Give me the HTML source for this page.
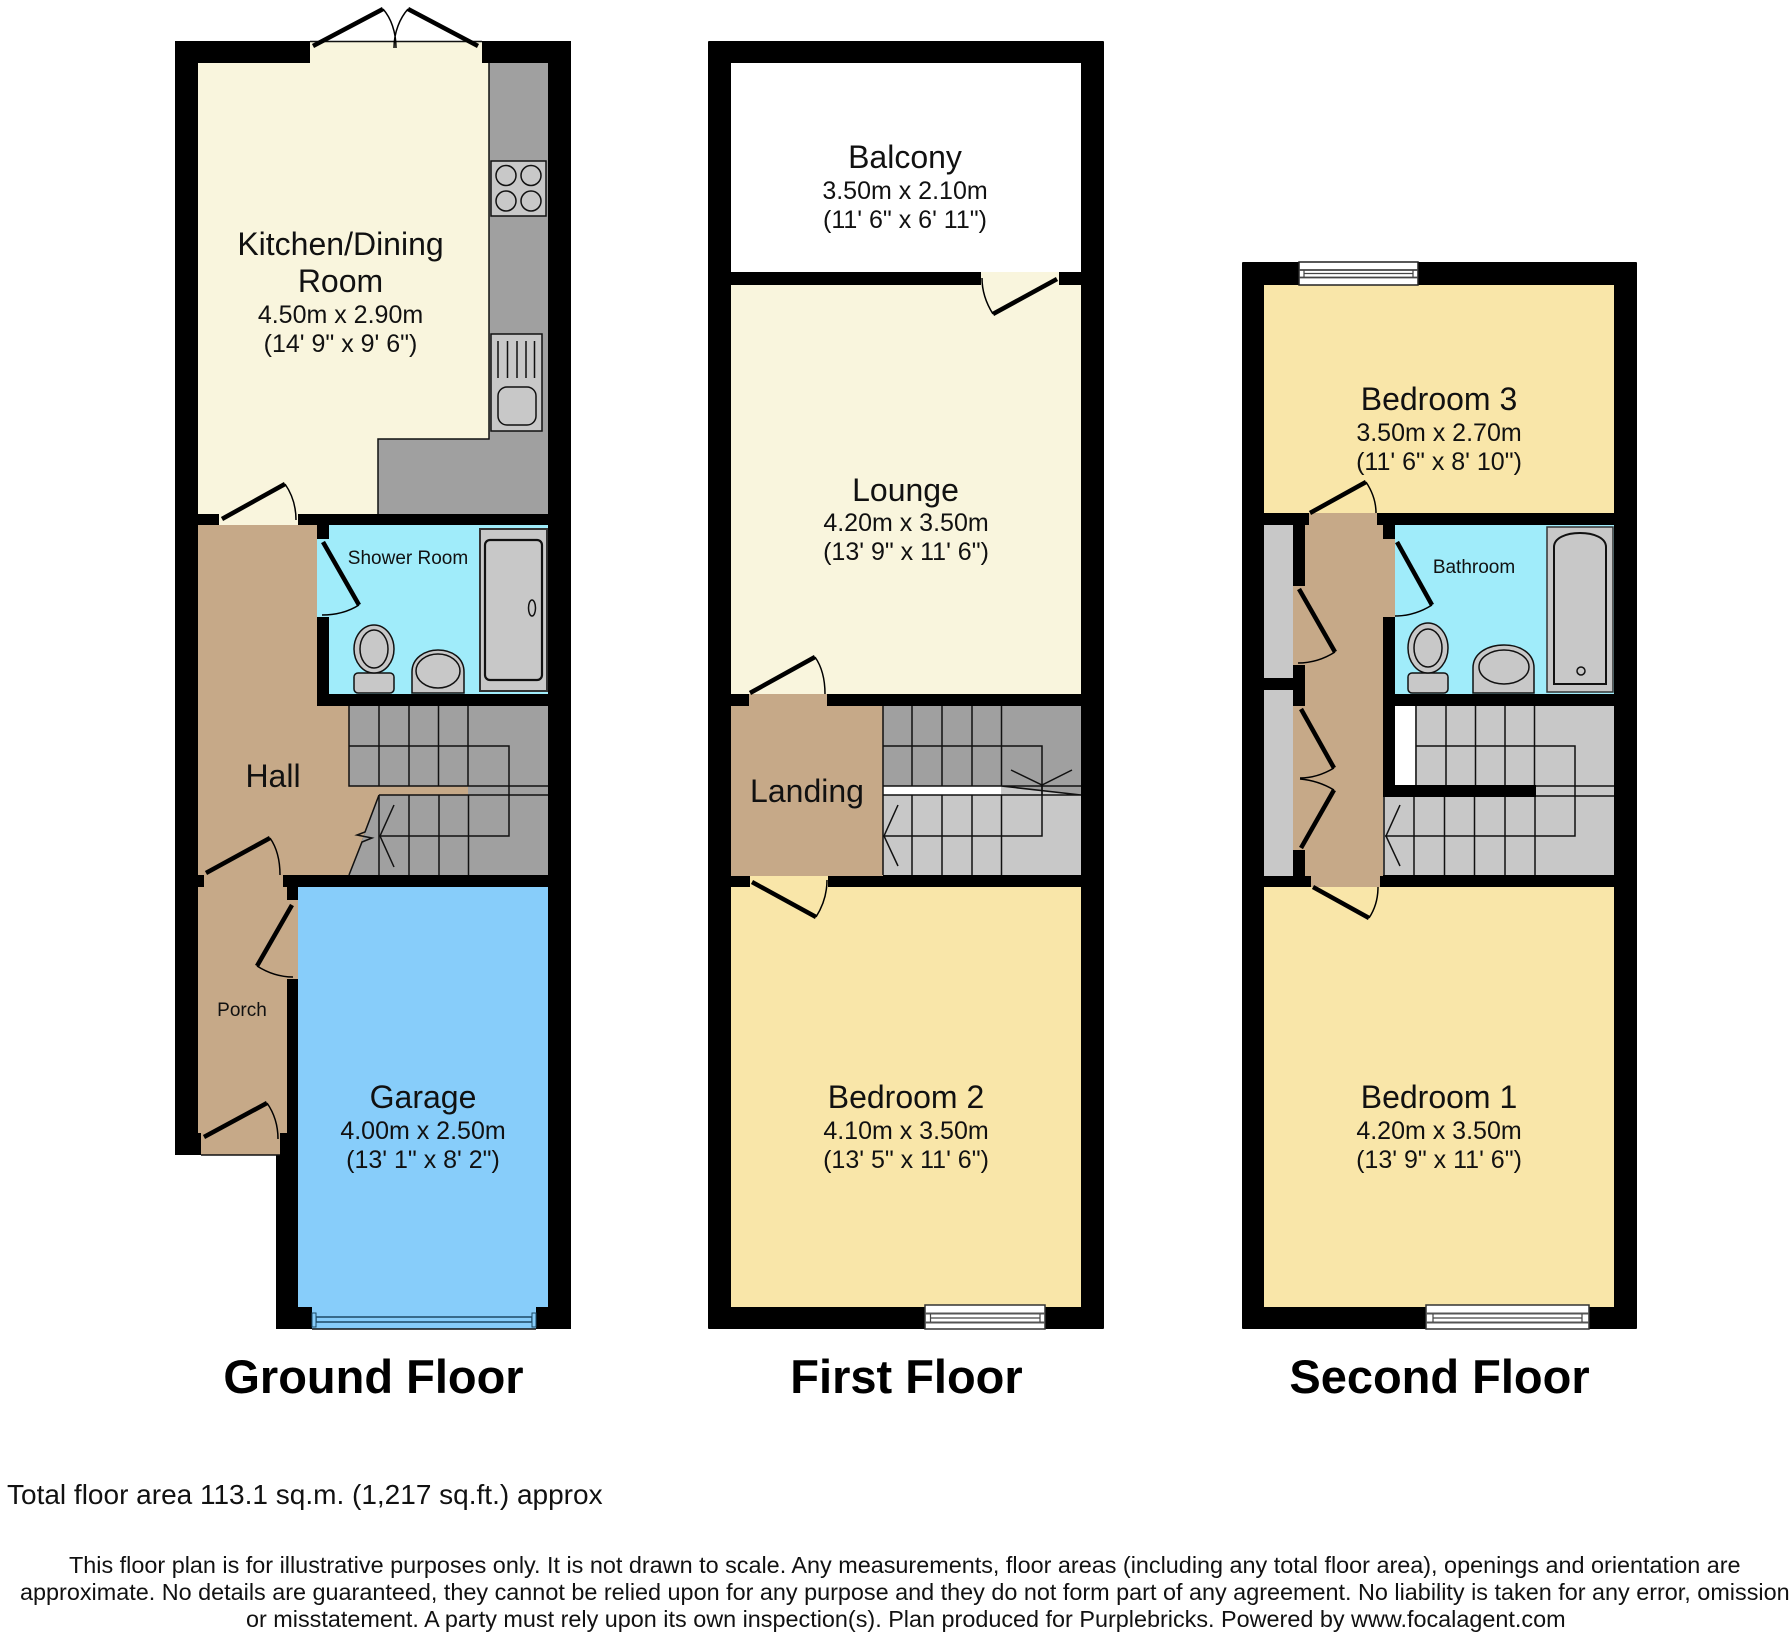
<!DOCTYPE html>
<html><head><meta charset="utf-8"><title>Floor Plan</title>
<style>
html,body{margin:0;padding:0;background:#fff}
svg{display:block}
text{font-family:"Liberation Sans",sans-serif;fill:#111}
.t{font-size:32px;text-anchor:middle}
.d{font-size:25px;text-anchor:middle}
.s{font-size:19px;text-anchor:middle}
.h{font-size:47px;font-weight:bold;text-anchor:middle;fill:#000}
.f{font-size:28px}
.n{font-size:23.4px}
.leaf{stroke:#000;stroke-width:4.5;fill:none}
.arc{stroke:#000;stroke-width:1.5;fill:none}
.ln{stroke:#111;stroke-width:1.5;fill:none}
.fx{fill:#c8c8c8;stroke:#111;stroke-width:1.5}
.k{fill:#000}
</style></head><body>
<svg xmlns="http://www.w3.org/2000/svg" width="1792" height="1632" viewBox="0 0 1792 1632">
<rect width="1792" height="1632" fill="#fff"/>

<!-- GROUND FLOOR -->
<polygon points="175,41 571,41 571,1329 276,1329 276,1155 175,1155" fill="#000"/>
<polygon points="198,63 310,63 310,42 482,42 482,63 489,63 489,439 378,439 378,514 298,514 298,525 219,525 219,514 198,514" fill="#f9f5dd"/>
<polygon points="489,63 548,63 548,514 378,514 378,439 489,439" fill="#a0a0a0"/>
<polyline points="489,63 489,439 378,439 378,514" class="ln"/>
<line x1="310" y1="41.5" x2="482" y2="41.5" class="ln"/>
<!-- hob -->
<rect x="491" y="161" width="55" height="55" class="fx"/>
<circle cx="506" cy="175.5" r="10" class="fx"/><circle cx="531" cy="175.5" r="10" class="fx"/>
<circle cx="506" cy="201" r="10" class="fx"/><circle cx="531" cy="201" r="10" class="fx"/>
<!-- sink -->
<rect x="491" y="334" width="51" height="97" class="fx"/>
<path d="M498 341V378M507.500 341V378M517 341V378M526 341V378M534.500 341V378" class="ln"/>
<rect x="498" y="387" width="38" height="38" rx="9" class="fx"/>
<!-- hall -->
<polygon points="198,525 317,525 317,706 349,706 349,786 468,786 468,795 379,795 349,875 283,875 283,887 204,887 204,875 198,875" fill="#c6a988"/>
<rect x="198" y="887" width="89" height="246" fill="#c6a988"/>
<rect x="198" y="875" width="6" height="12" class="k"/>
<rect x="201" y="1133" width="79" height="22" fill="#c6a988"/>
<rect x="287" y="900" width="11" height="79" fill="#c6a988"/>
<line x1="201" y1="1155" x2="280" y2="1155" class="ln"/>
<!-- shower room -->
<rect x="329" y="525" width="219" height="169" fill="#a0ecfa"/>
<rect x="317" y="539" width="12" height="78" fill="#a0ecfa"/>
<rect x="480" y="529" width="67" height="162" fill="#c8c8c8" stroke="#333" stroke-width="2"/>
<rect x="485" y="540" width="57" height="140" rx="5" fill="#c8c8c8" stroke="#111" stroke-width="2.2"/>
<ellipse cx="532" cy="608" rx="3.500" ry="8" class="fx"/>
<rect x="354" y="673" width="40" height="20" rx="4" class="fx"/>
<ellipse cx="374" cy="649" rx="20" ry="24" class="fx"/>
<ellipse cx="374" cy="649" rx="14" ry="19" class="fx"/>
<path d="M412 693V672C412 658 425 650 438 650C452 650 464 658 464 672V693Z" class="fx"/>
<ellipse cx="438" cy="671" rx="22" ry="17" class="fx"/>
<!-- ground stairs -->
<rect x="349" y="706" width="199" height="80" fill="#a0a0a0"/>
<rect x="468" y="786" width="80" height="9" fill="#a0a0a0"/>
<polygon points="379,795 548,795 548,875 349,875" fill="#a0a0a0"/>
<path d="M379 706V786M409 706V786M438.500 706V786M468 706V786M349 746H509V836H379M349 706V786H468M468 786H548M379 795H548M379 795V875M409 795V875M439 795V875M468.500 795V875" class="ln"/>
<path d="M379 795L365 832L357 835L372 838L362 842L349 875" class="ln"/>
<path d="M394 805L380 836L394 867" class="ln"/>
<!-- garage -->
<rect x="298" y="887" width="250" height="420" fill="#87cdfa"/>
<rect x="312" y="1307" width="224" height="22" fill="#87cdfa"/>
<line x1="312" y1="1329" x2="536" y2="1329" class="ln"/>
<rect x="316" y="1317" width="216" height="5" fill="#87cdfa" stroke="#1d4a66" stroke-width="1.500"/>
<rect x="312" y="1313" width="4" height="14" fill="#87cdfa" stroke="#1d4a66" stroke-width="1"/>
<rect x="532" y="1313" width="4" height="14" fill="#87cdfa" stroke="#1d4a66" stroke-width="1"/>
<!-- ground doors -->
<path d="M313 46L383 9M478 46L408 9" class="leaf"/>
<path d="M383 9C391 18 396 32 396 48M408 9C400 18 394 32 394 48" class="arc"/>
<path d="M222 519L285 484" class="leaf"/><path d="M285 484C292 494 296 506 296 520" class="arc"/>
<path d="M323 542L359 605" class="leaf"/><path d="M359 605C348 612 336 615 322 615" class="arc"/>
<path d="M206 873L270 838" class="leaf"/><path d="M270 838C277 848 280 860 280 875" class="arc"/>
<path d="M292 905L257 966" class="leaf"/><path d="M257 966C268 973 280 977 293 977" class="arc"/>
<path d="M204 1137L267 1103" class="leaf"/><path d="M267 1103C274 1113 278 1125 278 1139" class="arc"/>

<!-- FIRST FLOOR -->
<rect x="708" y="41" width="396" height="1288" rx="1" fill="#000"/>
<rect x="731" y="63" width="350" height="209" fill="#fff"/>
<rect x="731" y="285" width="350" height="409" fill="#f9f5dd"/>
<rect x="981" y="272" width="78" height="13" fill="#f9f5dd"/>
<rect x="749" y="694" width="78" height="12" fill="#c6a988"/>
<rect x="731" y="706" width="152" height="170" fill="#c6a988"/>
<rect x="731" y="887" width="350" height="420" fill="#f9e6a9"/>
<rect x="750" y="876" width="78" height="11" fill="#f9e6a9"/>
<rect x="883" y="706" width="198" height="80" fill="#a0a0a0"/>
<rect x="883" y="786" width="118" height="9" fill="#fff"/>
<polygon points="1001,786 1081,795 1001,795" fill="#c8c8c8"/>
<polygon points="1001,786 1081,786 1081,795" fill="#a0a0a0"/>
<rect x="883" y="795" width="198" height="80" fill="#c8c8c8"/>
<path d="M912 706V786M942 706V786M972 706V786M1001.500 706V786M883 746H1042V836H883M883 786H1081M883 795H1081M1001 786L1081 795M912 795V875M942 795V875M972 795V875M1001.500 795V875M883 706V875" class="ln"/>
<path d="M898 805L884 836L898 866M1011 770L1042 785L1072 770" class="ln"/>
<path d="M1042 785V795" class="ln"/>
<path d="M1057 279L993 314" class="leaf"/><path d="M993 314C986 303 982 291 982 278" class="arc"/>
<path d="M750 693L815 657" class="leaf"/><path d="M815 657C822 667 825 680 825 694" class="arc"/>
<path d="M752 882L816 917" class="leaf"/><path d="M816 917C823 906 827 893 827 880" class="arc"/>
<!-- first window -->
<rect x="925" y="1305" width="120" height="24" fill="#fff" stroke="#333" stroke-width="1.500"/>
<path d="M925 1313.500H1045M925 1322.500H1045" stroke="#555" stroke-width="2" fill="none"/>
<path d="M930.500 1314V1322M1040 1314V1322M931 1318H1040" stroke="#444" stroke-width="1.200" fill="none"/>

<!-- SECOND FLOOR -->
<rect x="1242" y="262" width="395" height="1067" rx="1" fill="#000"/>
<rect x="1264" y="285" width="350" height="228" fill="#f9e6a9"/>
<rect x="1264" y="887" width="350" height="420" fill="#f9e6a9"/>
<rect x="1264" y="525" width="29" height="153" fill="#c8c8c8"/>
<rect x="1264" y="690" width="29" height="186" fill="#c8c8c8"/>
<rect x="1305" y="525" width="78" height="351" fill="#c6a988"/>
<rect x="1309" y="513" width="68" height="12" fill="#c6a988"/>
<rect x="1311" y="876" width="69" height="11" fill="#c6a988"/>
<rect x="1293" y="586" width="12" height="79" fill="#c6a988"/>
<rect x="1293" y="706" width="12" height="144" fill="#c6a988"/>
<rect x="1383" y="539" width="12" height="78" fill="#c6a988"/>
<rect x="1395" y="525" width="219" height="169" fill="#a0ecfa"/>
<rect x="1547" y="527" width="66" height="165" fill="#c8c8c8" stroke="#333" stroke-width="1.500"/>
<path d="M1554 684V547C1554 538 1566 533 1580 533C1594 533 1606 538 1606 547V684Z" fill="#c8c8c8" stroke="#111" stroke-width="2"/>
<circle cx="1581" cy="671" r="4" class="fx"/>
<rect x="1408" y="673" width="40" height="20" rx="4" class="fx"/>
<ellipse cx="1428" cy="648" rx="20" ry="25" class="fx"/>
<ellipse cx="1428" cy="648" rx="14" ry="19" class="fx"/>
<path d="M1473 693V668C1473 653 1488 645 1504 645C1520 645 1534 653 1534 668V693Z" class="fx"/>
<ellipse cx="1504" cy="667" rx="25" ry="17" class="fx"/>
<!-- second stairs -->
<rect x="1395" y="706" width="20" height="79" fill="#fff"/>
<rect x="1415" y="706" width="199" height="79" fill="#c8c8c8"/>
<rect x="1536" y="785" width="78" height="12" fill="#c8c8c8"/>
<rect x="1383" y="797" width="231" height="78" fill="#c8c8c8"/>
<rect x="1383" y="785" width="153" height="12" class="k"/>
<path d="M1416 706V785M1446 706V785M1475.500 706V785M1505 706V785M1534.500 706V785M1416 746H1575V836H1385M1536 786H1614M1536 796H1614M1414 797V875M1444.500 797V875M1474.500 797V875M1505 797V875M1535 797V875M1384 797V875" class="ln"/>
<path d="M1400 805L1386 836L1400 866" class="ln"/>
<!-- second doors -->
<path d="M1310 513L1366 482" class="leaf"/><path d="M1366 482C1372 491 1376 501 1376 513" class="arc"/>
<path d="M1313 887L1369 918" class="leaf"/><path d="M1369 918C1375 909 1378 898 1378 887" class="arc"/>
<path d="M1397 542L1432 605" class="leaf"/><path d="M1432 605C1421 612 1409 616 1395 616" class="arc"/>
<path d="M1299 589L1335 652" class="leaf"/><path d="M1335 652C1324 659 1312 663 1298 663" class="arc"/>
<path d="M1301 709L1334 768" class="leaf"/><path d="M1334 768C1324 774 1312 778 1300 778" class="arc"/>
<path d="M1301 848L1334 790" class="leaf"/><path d="M1334 790C1324 784 1312 780 1300 779" class="arc"/>
<!-- second windows -->
<rect x="1299" y="262" width="119" height="23" fill="#fff" stroke="#222" stroke-width="1.500"/>
<path d="M1299 270H1418M1299 277.500H1418" stroke="#444" stroke-width="1.800" fill="none"/>
<path d="M1304 270V277M1413 270V277M1304 273.500H1413" stroke="#444" stroke-width="1.200" fill="none"/>
<rect x="1426" y="1305" width="163" height="24" fill="#fff" stroke="#333" stroke-width="1.500"/>
<path d="M1426 1313.500H1589M1426 1322.500H1589" stroke="#555" stroke-width="2" fill="none"/>
<path d="M1433 1314V1322M1582 1314V1322M1433 1318H1582" stroke="#444" stroke-width="1.200" fill="none"/>

<!-- LABELS -->
<text x="340.500" y="255" class="t">Kitchen/Dining</text>
<text x="340.500" y="292" class="t">Room</text>
<text x="340.500" y="323" class="d">4.50m x 2.90m</text>
<text x="340.500" y="352" class="d">(14' 9" x 9' 6")</text>
<text x="408" y="564" class="s">Shower Room</text>
<text x="273" y="787" class="t">Hall</text>
<text x="242" y="1016" class="s">Porch</text>
<text x="423" y="1108" class="t">Garage</text>
<text x="423" y="1139" class="d">4.00m x 2.50m</text>
<text x="423" y="1168" class="d">(13' 1" x 8' 2")</text>

<text x="905" y="168" class="t">Balcony</text>
<text x="905" y="199" class="d">3.50m x 2.10m</text>
<text x="905" y="228" class="d">(11' 6" x 6' 11")</text>
<text x="905.500" y="501" class="t">Lounge</text>
<text x="906" y="531" class="d">4.20m x 3.50m</text>
<text x="906" y="560" class="d">(13' 9" x 11' 6")</text>
<text x="807" y="802" class="t">Landing</text>
<text x="906" y="1108" class="t">Bedroom 2</text>
<text x="906" y="1139" class="d">4.10m x 3.50m</text>
<text x="906" y="1168" class="d">(13' 5" x 11' 6")</text>

<text x="1439" y="410" class="t">Bedroom 3</text>
<text x="1439" y="441" class="d">3.50m x 2.70m</text>
<text x="1439" y="470" class="d">(11' 6" x 8' 10")</text>
<text x="1474" y="573" class="s">Bathroom</text>
<text x="1439" y="1108" class="t">Bedroom 1</text>
<text x="1439" y="1139" class="d">4.20m x 3.50m</text>
<text x="1439" y="1168" class="d">(13' 9" x 11' 6")</text>

<text x="373.500" y="1393" class="h">Ground Floor</text>
<text x="906.500" y="1393" class="h">First Floor</text>
<text x="1439.500" y="1393" class="h">Second Floor</text>

<text x="7" y="1504" class="f">Total floor area 113.1 sq.m. (1,217 sq.ft.) approx</text>
<text x="69" y="1573" class="n">This floor plan is for illustrative purposes only. It is not drawn to scale. Any measurements, floor areas (including any total floor area), openings and orientation are</text>
<text x="20" y="1600" class="n">approximate. No details are guaranteed, they cannot be relied upon for any purpose and they do not form part of any agreement. No liability is taken for any error, omission</text>
<text x="246" y="1627" class="n">or misstatement. A party must rely upon its own inspection(s). Plan produced for Purplebricks. Powered by www.focalagent.com</text>
</svg>
</body></html>
